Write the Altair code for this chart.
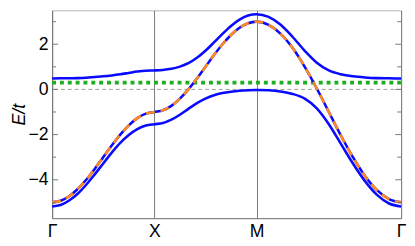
import altair as alt
import pandas as pd

# k-path coordinate (Γ=0, X=1, M=2, Γ=2+√2)
K = [0.0, 0.0833, 0.1667, 0.25, 0.3333, 0.4167, 0.5, 0.5833, 0.6667, 0.75, 0.8333, 0.9167,
     1.0, 1.0833, 1.1667, 1.25, 1.3333, 1.4167, 1.5, 1.5833, 1.6667, 1.75, 1.8333, 1.9167,
     2.0, 2.1179, 2.2357, 2.3536, 2.4714, 2.5893, 2.7071, 2.8250, 2.9428, 3.0607, 3.1785, 3.2964,
     3.4142]

# bare band (orange dashed / middle blue)
BARE = [-5.0, -4.93, -4.73, -4.41, -4.0, -3.52, -3.0, -2.48, -2.0, -1.59, -1.27, -1.07,
        -1.0, -0.93, -0.73, -0.41, 0.0, 0.48, 1.0, 1.52, 2.0, 2.41, 2.73, 2.93,
        3.0, 2.86, 2.46, 1.83, 1.0, 0.04, -1.0, -2.04, -3.0, -3.83, -4.46, -4.86,
        -5.0]

UPPER = [0.48, 0.49, 0.49, 0.50, 0.52, 0.55, 0.58, 0.62, 0.67, 0.73, 0.79, 0.83,
         0.84, 0.86, 0.91, 1.01, 1.16, 1.40, 1.71, 2.08, 2.46, 2.81, 3.09, 3.27,
         3.33, 3.21, 2.86, 2.32, 1.71, 1.18, 0.84, 0.67, 0.58, 0.53, 0.50, 0.49,
         0.48]

LOWER = [-5.18, -5.12, -4.92, -4.62, -4.22, -3.76, -3.28, -2.80, -2.37, -2.02, -1.76, -1.60,
         -1.54, -1.49, -1.34, -1.12, -0.86, -0.61, -0.41, -0.26, -0.16, -0.10, -0.06, -0.04,
         -0.03, -0.04, -0.09, -0.20, -0.41, -0.84, -1.54, -2.41, -3.28, -4.06, -4.67, -5.05,
         -5.18]

FLAT_LEVEL = [0.3]
ZERO_LEVEL = [0.0]

K_POS = [0, 1, 2, 3.4142]
K_LABELS = ["Γ", "X", "M", "Γ"]
Y_MAJOR = [-4, -2, 0, 2]
Y_MINOR = [-5, -3, -1, 1, 3]

W, H = 356, 212
BLUE = "#0a0aff"
ORANGE = "#ff8a1e"
GREEN = "#1fae1f"

rows = []
for name, arr in [("upper", UPPER), ("middle", BARE), ("lower", LOWER)]:
    for k, e in zip(K, arr):
        rows.append({"k": k, "E": e, "band": name})
bands = pd.DataFrame(rows)
bare = pd.DataFrame({"k": K, "E": BARE})

label_expr = " : ".join(
    [f"abs(datum.value - {p}) < 0.01 ? '{l}'" for p, l in zip(K_POS[:-1], K_LABELS[:-1])]
) + f" : '{K_LABELS[-1]}'"

xscale = alt.Scale(domain=[0, K_POS[-1]], nice=False, zero=False)
yscale = alt.Scale(domain=[-5.7, 3.5], nice=False, zero=False)

xaxis = alt.Axis(values=K_POS, labelExpr=label_expr, grid=True, gridColor="#7a7a7a",
                 gridWidth=1, ticks=False, labelFontSize=18, labelFont="Liberation Sans",
                 labelColor="black", labelPadding=5, title=None, labelFlush=False,
                 domainColor="#7a7a7a")
yaxis = alt.Axis(values=Y_MAJOR, grid=False, ticks=False, labelFontSize=18,
                 labelFont="Liberation Sans", labelColor="black", labelPadding=4,
                 title="E/t", titleFontStyle="italic", titleFontWeight="normal",
                 titleFontSize=18, titleFont="Liberation Sans", titleColor="black",
                 titleX=-28, titleY=H / 2, titleAngle=270, titleAlign="center",
                 titleBaseline="alphabetic", domainColor="#7a7a7a")

base_x = alt.X("k:Q", scale=xscale, axis=xaxis)

zero = alt.Chart(pd.DataFrame({"y": ZERO_LEVEL})).mark_rule(
    color="#9a9a9a", strokeWidth=1, strokeDash=[4, 3]
).encode(y=alt.Y("y:Q", scale=yscale, axis=yaxis))

flat = alt.Chart(pd.DataFrame({"y": FLAT_LEVEL})).mark_rule(
    color=GREEN, strokeWidth=4, strokeDash=[4, 4]
).encode(y=alt.Y("y:Q", scale=yscale))

lines = alt.Chart(bands).mark_line(
    color=BLUE, strokeWidth=2.6, interpolate="monotone"
).encode(x=base_x, y=alt.Y("E:Q", scale=yscale), detail="band:N")

orange = alt.Chart(bare).mark_line(
    color=ORANGE, strokeWidth=2.6, strokeDash=[9, 6], interpolate="monotone"
).encode(x=alt.X("k:Q", scale=xscale), y=alt.Y("E:Q", scale=yscale))

lt_major = alt.Chart(pd.DataFrame({"y": Y_MAJOR})).mark_rule(color="#7a7a7a", strokeWidth=1).encode(
    y=alt.Y("y:Q", scale=yscale), x=alt.value(0), x2=alt.value(6))
lt_minor = alt.Chart(pd.DataFrame({"y": Y_MINOR})).mark_rule(color="#7a7a7a", strokeWidth=1).encode(
    y=alt.Y("y:Q", scale=yscale), x=alt.value(0), x2=alt.value(4))
rt_major = alt.Chart(pd.DataFrame({"y": Y_MAJOR})).mark_rule(color="#7a7a7a", strokeWidth=1).encode(
    y=alt.Y("y:Q", scale=yscale), x=alt.value(W), x2=alt.value(W - 6))
rt_minor = alt.Chart(pd.DataFrame({"y": Y_MINOR})).mark_rule(color="#7a7a7a", strokeWidth=1).encode(
    y=alt.Y("y:Q", scale=yscale), x=alt.value(W), x2=alt.value(W - 4))

chart = alt.layer(
    zero, flat, lines, orange, lt_major, lt_minor, rt_major, rt_minor
).properties(
    width=W, height=H,
    autosize=alt.AutoSizeParams(type="none"),
    padding={"left": 45, "top": 0, "right": 6, "bottom": 26},
).configure_view(stroke="#b5b5b5", strokeWidth=1)

chart.save("out.html", embed_options={"renderer": "svg", "actions": False})
